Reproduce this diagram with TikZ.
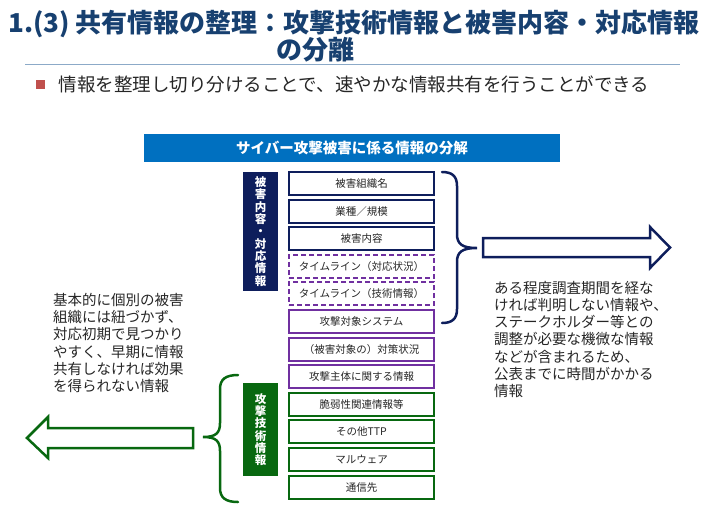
\documentclass[tikz,border=0pt]{standalone}
\usepackage{fontspec}
\setmainfont{Noto Sans CJK JP}
\usetikzlibrary{positioning}
\definecolor{titleblue}{RGB}{23,64,112}
\definecolor{rulecol}{RGB}{140,170,200}
\definecolor{bulletred}{RGB}{192,80,77}
\definecolor{bannerblue}{RGB}{0,112,192}
\definecolor{harmnavy}{RGB}{14,30,92}
\definecolor{tlpurple}{RGB}{112,48,160}
\definecolor{techgreen}{RGB}{8,104,16}
\definecolor{textdark}{RGB}{38,38,38}
\tikzset{
  titletext/.style={font=\bfseries\fontsize{26}{30}\selectfont,text=titleblue,inner sep=0pt},
  leadtext/.style={font=\fontsize{18.5}{22}\selectfont,text=textdark,inner sep=0pt,anchor=west},
  bulletsq/.style={fill=bulletred,minimum size=9pt,inner sep=0pt},
  banner/.style={fill=bannerblue,text=white,font=\bfseries\fontsize{14.5}{17}\selectfont,minimum width=416pt,minimum height=28pt,inner sep=0pt},
  infobox/.style={draw=harmnavy,line width=2pt,fill=white,minimum width=145pt,minimum height=23pt,inner sep=0pt,outer sep=0pt,font=\fontsize{10.5}{12}\selectfont,text=textdark},
  purplebox/.style={infobox,draw=tlpurple},
  dashbox/.style={purplebox,dash pattern=on 5pt off 3pt},
  greenbox/.style={infobox,draw=techgreen},
  sidelabel/.style={text=white,font=\bfseries\fontsize{11.5}{12.3}\selectfont,align=center,minimum width=35pt,inner sep=0pt},
  notetext/.style={font=\fontsize{14.5}{17.2}\selectfont,text=textdark,align=left,inner sep=0pt,anchor=north west},
  bracepath/.style={line width=2.5pt,line cap=round},
  bigarrow/.style={line width=2.5pt,line join=miter,fill=white},
}
\begin{document}
\begin{tikzpicture}[x=1pt,y=-1pt]
  \useasboundingbox (0,0) rectangle (704,515);
  % heading
  \node[titletext] (title1) at (354,24) {1.(3) 共有情報の整理：攻撃技術情報と被害内容・対応情報};
  \node[titletext] (title2) at (315,50) {の分離};
  \draw[rulecol,line width=1pt] (25,64) -- (680,64);
  \node[bulletsq] (bullet) at (40,84) {};
  \node[leadtext,right=14pt of bullet] (lead) {情報を整理し切り分けることで、速やかな情報共有を行うことができる};
  \node[banner] (banner) at (352,148) {サイバー攻撃被害に係る情報の分解};
  % information items
  \node[infobox] (org) at (361.5,183.5) {被害組織名};
  \node[infobox,below=4.6pt of org] (sector) {業種／規模};
  \node[infobox,below=4.6pt of sector] (damage) {被害内容};
  \node[dashbox,below=4.6pt of damage] (tlresp) {タイムライン（対応状況）};
  \node[dashbox,below=4.6pt of tlresp] (tltech) {タイムライン（技術情報）};
  \node[purplebox,below=4.6pt of tltech] (target) {攻撃対象システム};
  \node[purplebox,below=4.6pt of target] (measure) {（被害対象の）対策状況};
  \node[purplebox,below=4.6pt of measure] (actor) {攻撃主体に関する情報};
  \node[greenbox,below=4.6pt of actor] (vuln) {脆弱性関連情報等};
  \node[greenbox,below=4.6pt of vuln] (ttp) {その他TTP};
  \node[greenbox,below=4.6pt of ttp] (malware) {マルウェア};
  \node[greenbox,below=4.6pt of malware] (c2) {通信先};
  % group labels
  \node[sidelabel,fill=harmnavy,minimum height=119pt] (harmlabel) at (260.5,231.5) {被\\害\\内\\容\\・\\対\\応\\情\\報};
  \node[sidelabel,fill=techgreen,minimum height=93pt] (techlabel) at (260.5,429.5) {攻\\撃\\技\\術\\情\\報};
  % braces
  \draw[bracepath,draw=harmnavy] (442,172) .. controls (452,172) and (457,176) .. (457,186) -- (457,234)
    .. controls (457,244) and (462,248) .. (477,248)
    .. controls (462,248) and (457,252) .. (457,262) -- (457,309)
    .. controls (457,319) and (452,323) .. (442,323);
  \draw[bracepath,draw=techgreen] (238,375) .. controls (226,375) and (220,379) .. (220,389) -- (220,423)
    .. controls (220,433) and (216,437) .. (203,437)
    .. controls (216,437) and (220,441) .. (220,451) -- (220,488)
    .. controls (220,498) and (226,502) .. (238,502);
  % arrows
  \draw[bigarrow,draw=harmnavy] (483,238) -- (650,238) -- (650,227) -- (670,247.5) -- (650,268) -- (650,257) -- (483,257) -- cycle;
  \draw[bigarrow,draw=techgreen] (193,428) -- (48,428) -- (48,417) -- (27,438) -- (48,458) -- (48,448) -- (193,448) -- cycle;
  % notes
  \node[notetext] (latenote) at (494,281) {ある程度調査期間を経な\\ければ判明しない情報や、\\ステークホルダー等との\\調整が必要な機微な情報\\などが含まれるため、\\公表までに時間がかかる\\情報};
  \node[notetext] (earlynote) at (53,293) {基本的に個別の被害\\組織には紐づかず、\\対応初期で見つかり\\やすく、早期に情報\\共有しなければ効果\\を得られない情報};
\end{tikzpicture}
\end{document}
